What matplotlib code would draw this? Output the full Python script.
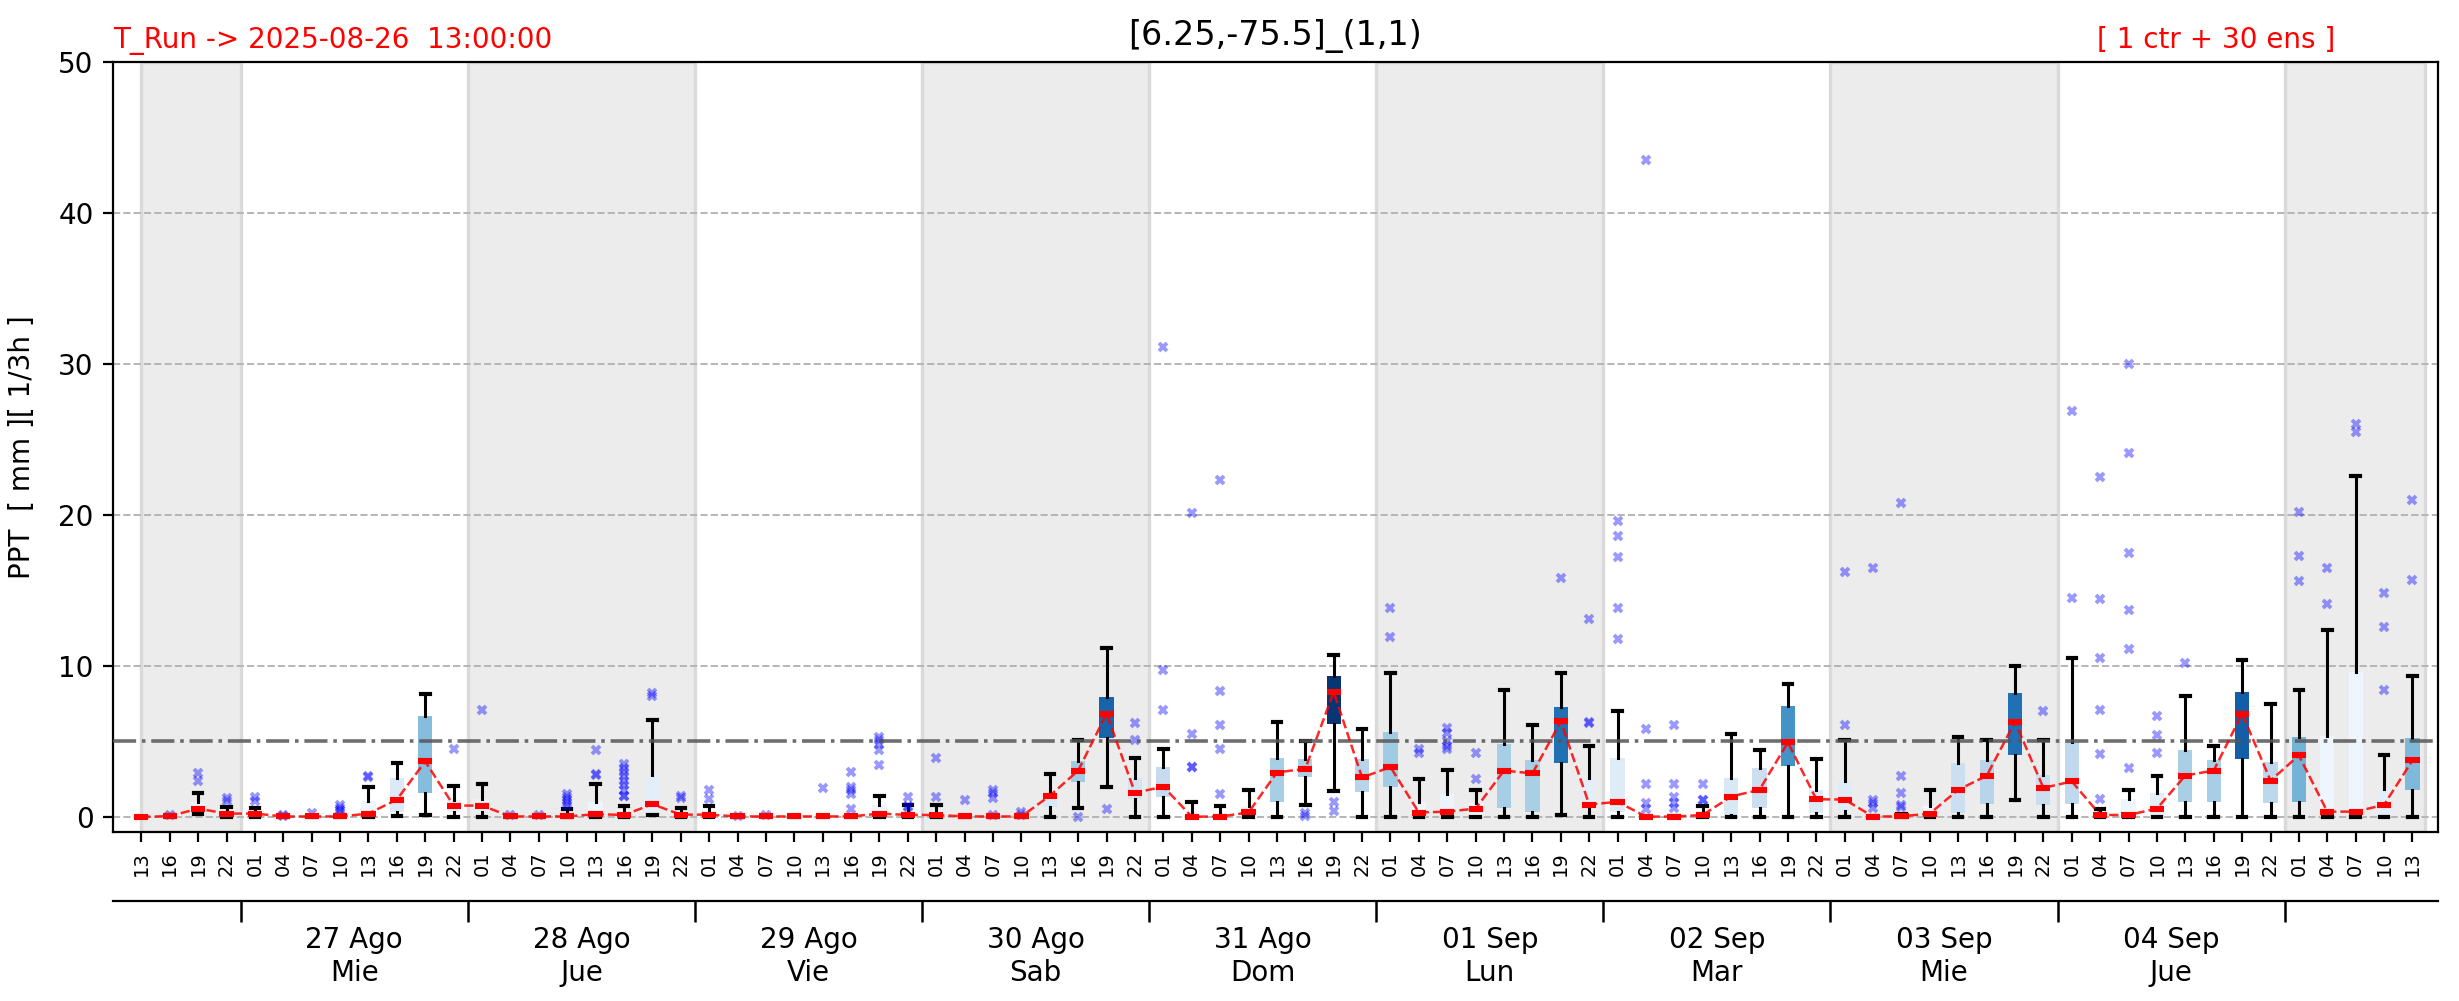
import matplotlib
matplotlib.use("Agg")
import matplotlib.pyplot as plt
from matplotlib.ticker import FixedLocator, NullFormatter, FixedFormatter

# 3-hourly steps from 2025-08-26 13h to 2025-09-05 13h
hours = ["13", "16", "19", "22"] + ["01", "04", "07", "10", "13", "16", "19", "22"] * 9 + ["01", "04", "07", "10", "13"]
day_labels = ["27 Ago\nMie", "28 Ago\nJue", "29 Ago\nVie", "30 Ago\nSab", "31 Ago\nDom",
              "01 Sep\nLun", "02 Sep\nMar", "03 Sep\nMie", "04 Sep\nJue"]

whis_lo = [0, 0, 0.18, 0, 0, 0, 0, 0, 0, 0.05, 0.1, 0, 0, 0, 0, 0, 0, 0, 0.1, 0,
           0, 0, 0, 0, 0, 0, 0, 0, 0, 0, 0, 0, 0, 0.58, 1.97, 0, 0, 0, 0, 0,
           0, 0.77, 1.73, 0, 0, 0, 0, 0, 0, 0, 0.1, 0, 0, 0, 0, 0, 0, 0, 0, 0,
           0, 0, 0, 0, 0, 0, 1.13, 0, 0, 0, 0, 0, 0, 0, 0, 0, 0, 0, 0, 0, 0]
q1 = [0, 0, 0.2, 0, 0, 0, 0, 0, 0, 0.3, 1.57, 0.3, 0.3, 0, 0, 0, 0, 0, 0.1, 0,
      0, 0, 0, 0, 0, 0, 0, 0, 0, 0, 0, 0, 0.64, 2.28, 5.22, 1.2, 1.3, 0, 0, 0,
      1.0, 2.63, 6.15, 1.68, 2.0, 0, 0, 0, 0.62, 0.35, 3.56, 0.6, 0.35, 0, 0, 0, 0.13, 0.62, 3.34, 0.29,
      0.42, 0, 0, 0, 0.24, 0.88, 4.07, 0.8, 0.88, 0, 0, 0, 1.02, 1.02, 3.83, 0.95, 1.02, 0, 0, 0, 1.75]
median = [0, 0.05, 0.55, 0.22, 0.22, 0.03, 0.03, 0.03, 0.22, 1.15, 3.67, 0.75, 0.75, 0.03, 0.03, 0.03, 0.18, 0.13, 0.84, 0.15,
          0.15, 0.03, 0.03, 0.03, 0.03, 0.03, 0.22, 0.13, 0.13, 0.03, 0.03, 0.03, 1.4, 3.07, 6.84, 1.6, 2.0, 0.02, 0.02, 0.3,
          2.94, 3.19, 8.27, 2.61, 3.3, 0.29, 0.35, 0.55, 3.07, 2.88, 6.33, 0.82, 1.0, 0.02, 0.02, 0.13, 1.35, 1.8, 4.93, 1.17,
          1.15, 0.02, 0.04, 0.22, 1.8, 2.72, 6.3, 1.92, 2.35, 0.13, 0.13, 0.55, 2.74, 3.07, 6.84, 2.41, 4.07, 0.35, 0.35, 0.8, 3.74]
q3 = [0, 0.1, 0.97, 0.5, 0.45, 0.05, 0.05, 0.05, 1.06, 2.57, 6.7, 1.1, 1.2, 0.05, 0.05, 0.2, 0.97, 0.45, 2.79, 0.4,
      0.45, 0.05, 0.05, 0.05, 0.05, 0.05, 0.8, 0.4, 0.4, 0.05, 0.05, 0.05, 1.57, 3.7, 7.96, 2.57, 3.3, 0.3, 0.3, 0.73,
      3.9, 3.83, 9.36, 3.83, 5.62, 1.0, 1.5, 0.95, 4.85, 3.78, 7.3, 2.57, 3.9, 0.05, 0.05, 0.4, 2.57, 3.23, 7.37, 1.8,
      2.39, 0.05, 0.1, 0.75, 3.56, 3.76, 8.2, 2.77, 4.93, 0.3, 1.17, 1.57, 4.45, 3.78, 8.27, 3.63, 5.29, 5.38, 9.6, 1.84, 5.22]
whis_hi = [0, 0.1, 1.6, 0.66, 0.6, 0.05, 0.05, 0.1, 2.0, 3.54, 8.16, 2.06, 2.19, 0.05, 0.05, 0.55, 2.19, 0.73, 6.44, 0.6,
           0.73, 0.05, 0.05, 0.05, 0.05, 0.05, 1.4, 0.8, 0.77, 0.05, 0.05, 0.1, 2.85, 5.1, 11.2, 3.9, 4.5, 1.0, 0.73, 1.75,
           6.28, 5.04, 10.73, 5.82, 9.54, 2.52, 3.12, 1.8, 8.43, 6.1, 9.54, 4.7, 7.0, 0.05, 0.05, 0.73, 5.5, 4.45, 8.83, 3.85,
           5.1, 0.05, 0.2, 1.8, 5.3, 5.1, 10.0, 5.1, 10.53, 0.5, 1.75, 2.72, 8.03, 4.7, 10.4, 7.5, 8.43, 12.4, 22.6, 4.1, 9.34]
outliers = [
    [], [0.15], [2.9, 2.4], [1.28, 1.08], [1.3, 1.08], [0.15, 0.08], [0.25], [0.8, 0.6, 0.45, 0.35],
    [2.7, 2.65], [], [], [4.5], [7.08], [0.1], [0.15], [1.55, 1.35, 1.1, 0.9, 0.75],
    [2.85, 2.8, 4.42], [3.5, 3.25, 3.0, 2.7, 2.4, 2.1, 1.8, 1.4, 1.4], [8.2, 8.0], [1.4, 1.25],
    [1.8, 1.17], [0.05], [0.1], [], [1.9], [3.0, 2.0, 1.8, 1.55, 0.5], [5.3, 5.1, 4.8, 4.4, 3.45],
    [1.35, 0.7, 0.68], [3.9, 1.3], [1.13], [1.8, 1.57, 1.26, 0.13], [0.35, 0.15], [], [0.0], [0.5],
    [6.2, 5.1], [9.76, 7.1, 31.1], [5.5, 3.3, 3.28, 20.1], [8.36, 6.08, 4.5, 1.5, 22.3], [],
    [], [0.25, 0.07], [0.97, 0.4], [], [11.9, 13.85], [4.5, 4.2], [5.9, 5.55, 5.0, 4.67, 4.5], [4.2, 2.5],
    [], [], [15.84], [6.28, 6.25, 13.1], [13.85, 11.8, 17.2, 18.6, 19.6], [5.8, 2.2, 0.9, 0.5, 43.5],
    [6.06, 2.2, 1.3, 0.9, 0.57], [2.2, 1.13, 1.1], [], [], [], [],
    [6.08, 16.2], [1.13, 0.9, 0.6, 16.5], [2.72, 1.57, 0.8, 0.64, 20.8], [], [], [], [], [7.03],
    [14.5, 26.9], [1.17, 4.16, 7.08, 10.5, 14.4, 22.5], [3.23, 11.1, 13.7, 17.5, 24.1, 30.0], [4.2, 5.4, 6.66],
    [10.2], [], [], [], [15.6, 17.3, 20.2], [14.1, 16.5], [25.5, 26.05], [8.43, 12.6, 14.85], [15.7, 21.0],
]
# colour level of each box (share of members above threshold, read from the shade)
prob_level = [0, 0, 0.06, 0.04, 0.04, 0, 0, 0, 0.05, 0.14, 0.43, 0.08, 0.07, 0, 0, 0.02, 0.05, 0.04, 0.1, 0.03,
              0.03, 0, 0, 0, 0, 0, 0.05, 0.03, 0.03, 0, 0, 0, 0.15, 0.37, 0.8, 0.18, 0.25, 0.03, 0.03, 0.03,
              0.35, 0.33, 0.98, 0.3, 0.37, 0.05, 0.06, 0.05, 0.35, 0.34, 0.75, 0.1, 0.12, 0, 0, 0.03, 0.15, 0.22, 0.62, 0.14,
              0.12, 0, 0, 0.03, 0.22, 0.3, 0.75, 0.23, 0.27, 0.03, 0.05, 0.1, 0.34, 0.35, 0.82, 0.28, 0.48, 0.05, 0.05, 0.1, 0.45]
threshold = 5.0

n = len(hours)
pos = list(range(n))

fig = plt.figure(figsize=(2459 / 200, 1001 / 200), dpi=200)
ax = fig.add_axes([0.04595, 0.16883, 0.94551, 0.76923])

# alternate day shading
edges = [0] + [3.5 + 8 * k for k in range(10)] + [n - 0.55]
for k in range(0, len(edges) - 1, 2):
    ax.axvspan(edges[k], edges[k + 1], facecolor="#ececec", edgecolor="#dadada", linewidth=1.2, zorder=0.2)

stats = []
for i in pos:
    stats.append(dict(whislo=whis_lo[i], q1=q1[i], med=median[i], q3=q3[i], whishi=whis_hi[i], fliers=outliers[i]))

bp = ax.bxp(stats, positions=pos, widths=0.5, patch_artist=True, capwidths=0.3,
            boxprops=dict(linewidth=0),
            whiskerprops=dict(color="black", linewidth=1.1),
            capprops=dict(color="black", linewidth=1.5),
            medianprops=dict(color="red", linewidth=2.2, solid_capstyle="butt", zorder=4),
            flierprops=dict(marker="x", markersize=3, markeredgewidth=1.4, markeredgecolor="blue", alpha=0.4))
cmap = plt.cm.Blues
for box, lvl in zip(bp["boxes"], prob_level):
    box.set_facecolor(cmap(lvl))

ax.plot(pos, median, color="red", linestyle="--", linewidth=0.9, alpha=0.85, zorder=3.5)
ax.axhline(threshold, color="#555555", linestyle="-.", linewidth=1.3, alpha=0.85, zorder=3)

ax.set_xlim(-1, n - 0.1)
ax.set_ylim(-1, 50)
ax.set_yticks([0, 10, 20, 30, 40, 50])
ax.yaxis.grid(True, linestyle="--", color="#b5b5b5", linewidth=0.7)
ax.set_axisbelow("line")
ax.set_xticks(pos)
ax.set_xticklabels(hours, rotation=90, fontsize=7)
ax.tick_params(axis="y", labelsize=10)
ax.set_ylabel("PPT  [ mm ][ 1/3h ]", fontsize=10, labelpad=8)

ax.set_title("[6.25,-75.5]_(1,1)", fontsize=12)
ax.text(0.0, 1.018, "T_Run -> 2025-08-26  13:00:00", transform=ax.transAxes, color="red", fontsize=10, va="baseline")
ax.text(0.956, 1.018, "[ 1 ctr + 30 ens ]", transform=ax.transAxes, color="red", fontsize=10, va="baseline", ha="right")

# day axis below the hour ticks
ax2 = ax.twiny()
ax2.set_xlim(ax.get_xlim())
ax2.xaxis.set_ticks_position("bottom")
ax2.xaxis.set_label_position("bottom")
ax2.spines["bottom"].set_position(("outward", 25))
for side in ["top", "left", "right"]:
    ax2.spines[side].set_visible(False)
ax2.xaxis.set_major_locator(FixedLocator(edges[1:-1]))
ax2.xaxis.set_major_formatter(NullFormatter())
ax2.xaxis.set_minor_locator(FixedLocator([7.5 + 8 * k for k in range(len(day_labels))]))
ax2.xaxis.set_minor_formatter(FixedFormatter(day_labels))
ax2.tick_params(axis="x", which="major", length=7.6, width=0.9)
ax2.tick_params(axis="x", which="minor", length=0, pad=9, labelsize=10)

fig.savefig("out.png", dpi=200)
